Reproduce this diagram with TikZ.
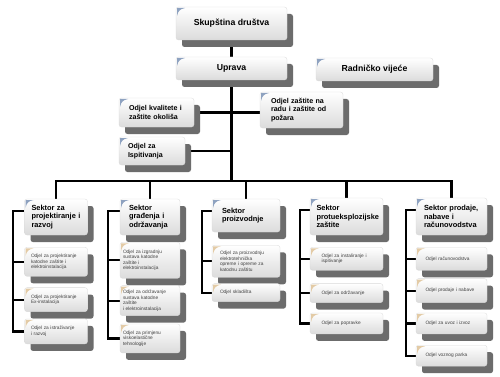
\documentclass[tikz,border=0pt]{standalone}
\usepackage{fontspec}
\setmainfont{Liberation Sans}
\usepackage{tikz}
\usetikzlibrary{positioning,shadows,backgrounds}
\definecolor{uvojakplavi}{HTML}{8EA2C0}
\definecolor{uvojakbez}{HTML}{E3CBA6}
\definecolor{sjena}{HTML}{6C6C6C}
\newcommand{\fontvrh}{\fontsize{8.7}{10}\selectfont\bfseries}
\newcommand{\fontsektor}{\fontsize{7.4}{8.8}\selectfont\bfseries}
\newcommand{\fontodjel}{\fontsize{7.1}{8.9}\selectfont\bfseries}
\newcommand{\fontmali}{\fontsize{4.8}{5.6}\selectfont}
\tikzset{
  kutija/.style={draw=black!15,line width=0.3pt,rounded corners=2.5pt,inner sep=0pt,
    top color=white,bottom color=black!14,
    drop shadow={shadow xshift=6pt,shadow yshift=-7pt,fill=sjena,opacity=1}},
  uvojak/.style={path picture={\fill[#1,sharp corners] ([shift={(1pt,-1pt)}]path picture bounding box.north west)
    -- ++(8pt,0pt) .. controls +(-5pt,-1pt) and +(1pt,5pt) .. ++(-8pt,-8pt) -- cycle;}},
  vrh/.style={kutija,uvojak=uvojakplavi,font=\fontvrh,align=center},
  odjel/.style={kutija,uvojak=uvojakplavi,font=\fontodjel,align=left},
  sektor/.style={kutija,uvojak=uvojakplavi,font=\fontsektor,align=left},
  pododjel/.style={kutija,uvojak=uvojakbez,font=\fontmali,text=black!75,align=left},
  veza/.style={line width=2.2pt,black}
}

\begin{document}
\begin{tikzpicture}[x=1pt,y=-1pt]
  \useasboundingbox (0,0) rectangle (500,377);
  % uprava i odjeli
  \node[vrh,minimum width=111pt,minimum height=33pt] (skupstina) at (231.5,23.5) {Skupština društva};
  \node[vrh,minimum width=111pt,minimum height=23pt] (uprava) at (231.5,68.5) {Uprava};
  \node[vrh,minimum width=117pt,minimum height=23pt] (vijece) at (374.5,69.5) {Radničko vijeće};
  \node[odjel,minimum width=75pt,minimum height=29pt,text width=55pt] (kvaliteta) at (156.5,112.5) {Odjel kvalitete i\\zaštite okoliša};
  \node[odjel,minimum width=83pt,minimum height=36pt,text width=61pt] (zastita) at (301.5,110) {Odjel zaštite na\\radu i zaštite od\\požara};
  \node[odjel,minimum width=66pt,minimum height=28pt,text width=48pt] (ispitivanja) at (152,151) {Odjel za\\Ispitivanja};

  % sektori
  \node[sektor,minimum width=63pt,minimum height=36pt,text width=49pt] (s1) at (56,217) {Sektor za\\projektiranje i\\razvoj};
  \node[sektor,minimum width=60pt,minimum height=36pt,text width=42pt] (s2) at (150,217) {Sektor\\građenja i\\održavanja};
  \node[sektor,minimum width=68pt,minimum height=33pt,text width=48pt] (s3) at (246,215.5) {Sektor\\proizvodnje};
  \node[sektor,minimum width=73pt,minimum height=37pt,text width=60pt] (s4) at (346.5,216.5) {Sektor\\protueksplozijske\\zaštite};
  \node[sektor,minimum width=71pt,minimum height=37pt,text width=55pt] (s5) at (451.5,216.5) {Sektor prodaje,\\nabave i\\računovodstva};

  % odjeli sektora
  \node[pododjel,minimum width=63pt,minimum height=29pt,text width=50pt,below=12pt of s1] (katodna) {Odjel za projektiranje\\katodne zaštite i\\elektroinstalacija};
  \node[pododjel,minimum width=63pt,minimum height=24pt,text width=50pt,below=11pt of katodna] (exinst) {Odjel za projektiranje\\Ex-instalacija};
  \node[pododjel,minimum width=63pt,minimum height=25pt,text width=50pt,below=7pt of exinst] (istrazivanje) {Odjel za istraživanje\\i razvoj};

  \node[pododjel,minimum width=60pt,minimum height=36pt,text width=54pt,below=7pt of s2] (izgradnja) {Odjel za izgradnju\\sustava katodne\\zaštite i\\elektroinstalacija};
  \node[pododjel,minimum width=60pt,minimum height=30pt,text width=54pt,below=7pt of izgradnja] (odrzavanje) {Odjel za održavanje\\sustava katodne\\zaštite\\i elektroinstalacija};
  \node[pododjel,minimum width=60pt,minimum height=29pt,text width=54pt,below=8pt of odrzavanje] (primjena) {Odjel za primjenu\\viskoelastične\\tehnologije};

  \node[pododjel,minimum width=68pt,minimum height=32pt,text width=52pt,below=13pt of s3] (proizvodnja) {Odjel za proizvodnju\\elektrotehnička\\opreme i opreme za\\katodnu zaštitu};
  \node[pododjel,minimum width=68pt,minimum height=18pt,text width=52pt,below=6pt of proizvodnja] (skladiste) {Odjel skladišta};

  \node[pododjel,minimum width=73pt,minimum height=23pt,text width=50pt,below=12pt of s4] (instaliranje) {Odjel za instaliranje i\\ispitivanje};
  \node[pododjel,minimum width=73pt,minimum height=19pt,text width=50pt,below=13pt of instaliranje] (servis) {Odjel za održavanje};
  \node[pododjel,minimum width=73pt,minimum height=21pt,text width=50pt,below=10pt of servis] (popravci) {Odjel za popravke};

  \node[pododjel,minimum width=71pt,minimum height=23pt,text width=52pt,below=12pt of s5] (racunovodstvo) {Odjel računovodstva};
  \node[pododjel,minimum width=71pt,minimum height=24pt,text width=52pt,below=8pt of racunovodstvo] (prodaja) {Odjel prodaje i nabave};
  \node[pododjel,minimum width=71pt,minimum height=21pt,text width=52pt,below=10pt of prodaja] (uvoz) {Odjel za uvoz i izvoz};
  \node[pododjel,minimum width=71pt,minimum height=21pt,text width=52pt,below=11pt of uvoz] (vozni) {Odjel voznog parka};

  % veze
  \begin{scope}[on background layer]
    \fill[white] (0,0) rectangle (500,377);
    \coordinate (sabirnica) at (231.5,181);
    \draw[veza] (skupstina) -- (uprava);
    \draw[veza] (uprava) -- (sabirnica);
    \draw[veza] (kvaliteta.east) -- (kvaliteta.east -| zastita.west);
    \draw[veza] (ispitivanja.east) -- (ispitivanja.east -| uprava.south);
    \draw[veza] (s1.north) |- (sabirnica) -| (s5.north);
    \foreach \s in {s2,s3,s4}
      \draw[veza] (\s.north) -- (\s.north |- sabirnica);

    \draw[veza] ([yshift=-12pt]s1.north west) -- ++(-11pt,0pt) |- (istrazivanje.west);
    \draw[veza] (katodna.west) -- ++(-11pt,0pt);
    \draw[veza] (exinst.west) -- ++(-11pt,0pt);

    \draw[veza] ([yshift=-12pt]s2.north west) -- ++(-12pt,0pt) |- (primjena.west);
    \draw[veza] (izgradnja.west) -- ++(-12pt,0pt);
    \draw[veza] (odrzavanje.west) -- ++(-12pt,0pt);

    \draw[veza] ([yshift=-12pt]s3.north west) -- ++(-10pt,0pt) |- (skladiste.west);
    \draw[veza] (proizvodnja.west) -- ++(-10pt,0pt);

    \draw[veza] ([yshift=-12pt]s4.north west) -- ++(-10pt,0pt) |- (popravci.west);
    \draw[veza] (instaliranje.west) -- ++(-10pt,0pt);
    \draw[veza] (servis.west) -- ++(-10pt,0pt);

    \draw[veza] ([yshift=-12pt]s5.north west) -- ++(-10pt,0pt) |- (vozni.west);
    \draw[veza] (racunovodstvo.west) -- ++(-10pt,0pt);
    \draw[veza] (prodaja.west) -- ++(-10pt,0pt);
    \draw[veza] (uvoz.west) -- ++(-10pt,0pt);
  \end{scope}
\end{tikzpicture}
\end{document}
